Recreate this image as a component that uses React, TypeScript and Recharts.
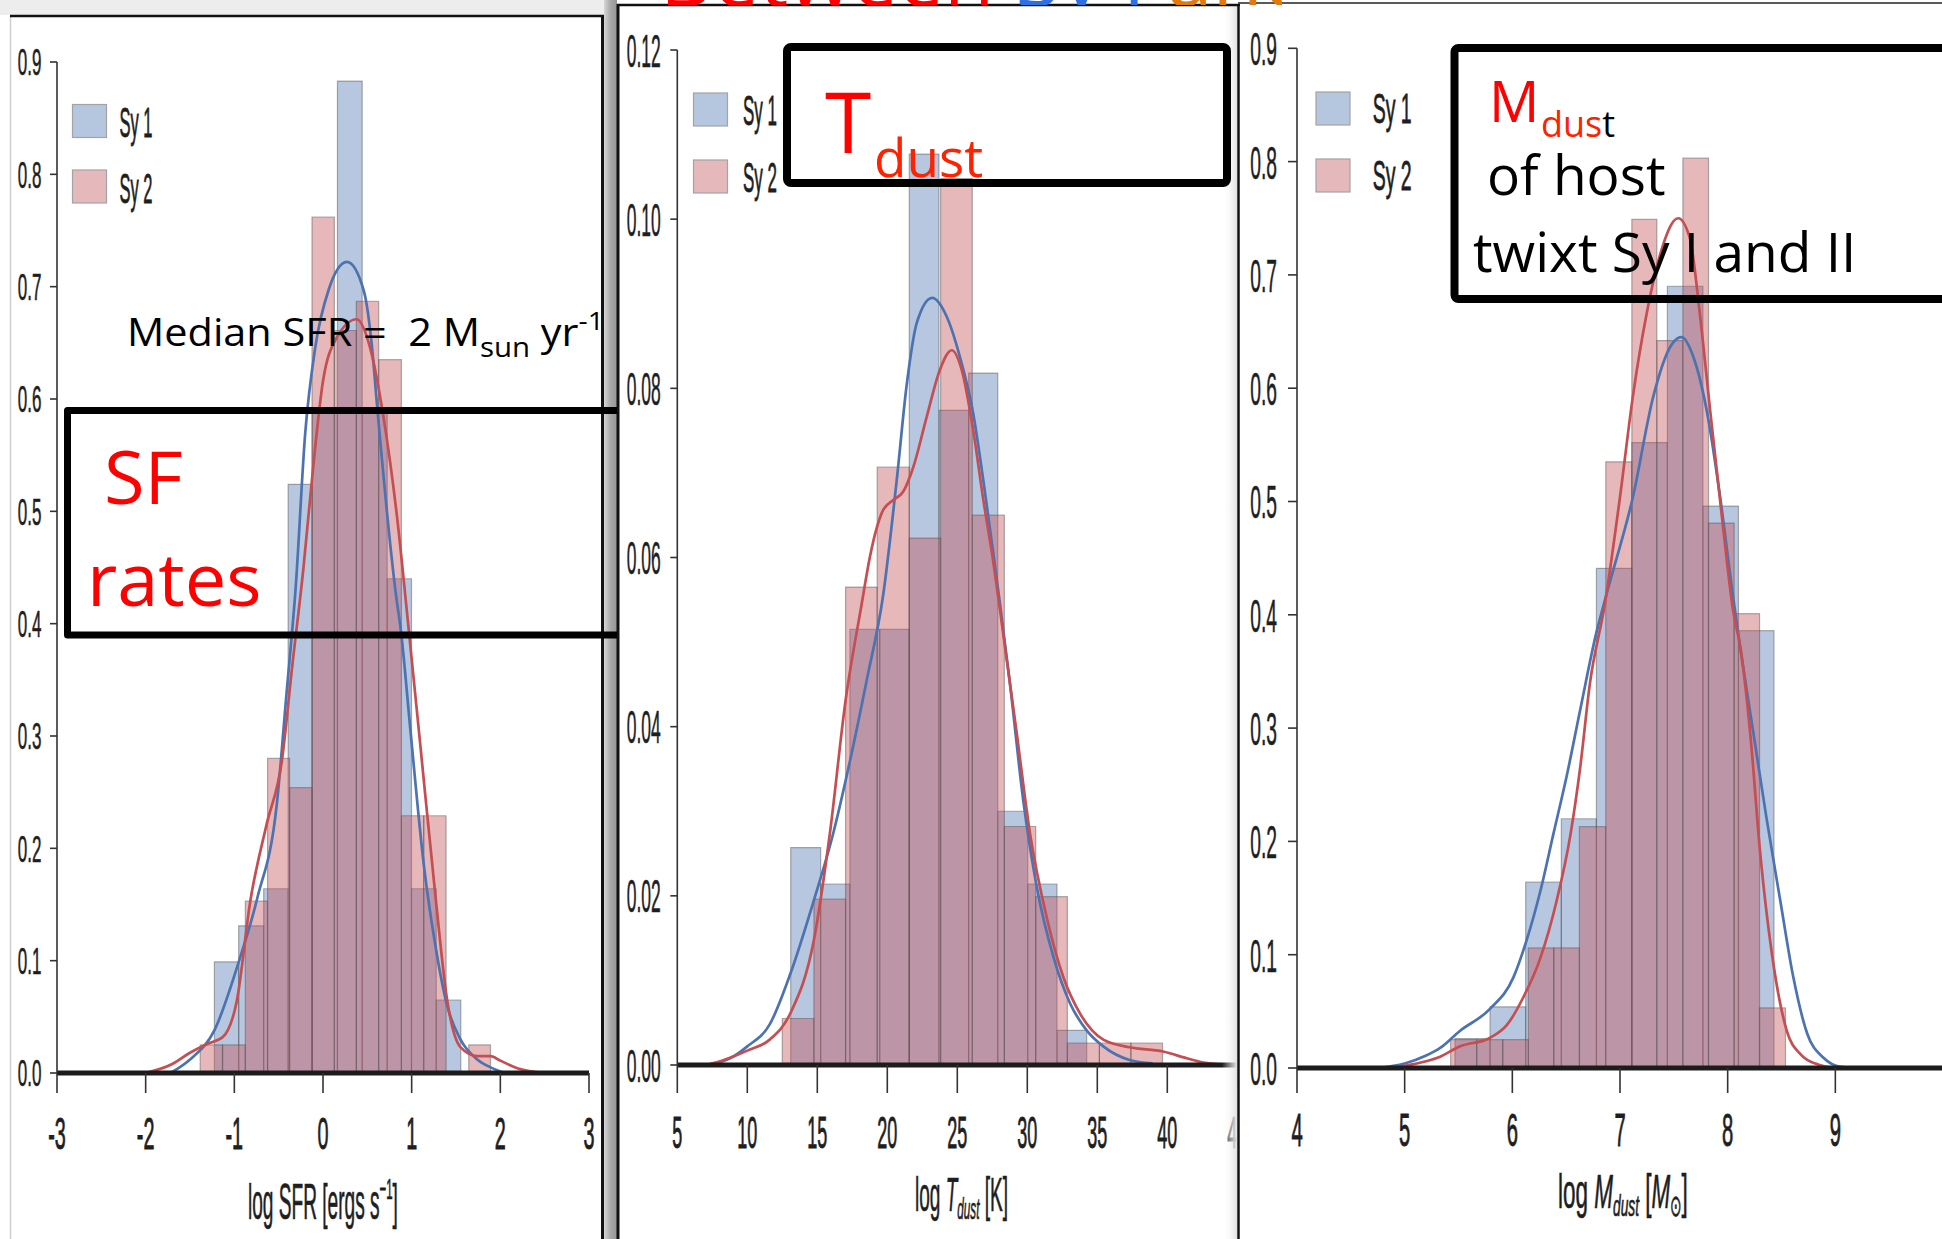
import React, { useLayoutEffect, useRef, useState } from 'react';
import { ComposedChart, Line, XAxis, YAxis, ReferenceArea } from 'recharts';

const SY1 = '#4c72b0';
const SY2 = '#c44e52';
const TICK_FONT = "'Liberation Sans', Arial, sans-serif";
const NOTE_FONT = "'Open Sans', 'Noto Sans', sans-serif";

// ---------- Panel 1 : log SFR ----------
const sfrXTicks = [-3, -2, -1, 0, 1, 2, 3];
const sfrYTicks = [0, 0.1, 0.2, 0.3, 0.4, 0.5, 0.6, 0.7, 0.8, 0.9];
const sfrSy1Edges = [-1.225, -0.951, -0.669, -0.393, -0.122, 0.163, 0.442, 0.724, 0.998, 1.277, 1.554];
const sfrSy1Density = [0.099, 0.131, 0.164, 0.524, 0.59, 0.883, 0.59, 0.44, 0.164, 0.065];
const sfrSy2Edges = [-1.385, -1.133, -0.876, -0.625, -0.377, -0.124, 0.128, 0.376, 0.628, 0.884, 1.136, 1.388, 1.644, 1.889];
const sfrSy2Density = [0.025, 0.025, 0.153, 0.28, 0.254, 0.762, 0.661, 0.687, 0.635, 0.229, 0.229, 0, 0.025];
const sfrSy1Kde: [number, number][] = [
  [-1.72, 0], [-1.5, 0.012], [-1.225, 0.038], [-0.95, 0.099], [-0.74, 0.156], [-0.52, 0.24],
  [-0.41, 0.339], [-0.31, 0.43], [-0.2, 0.57], [-0.087, 0.646], [0.063, 0.697], [0.27, 0.722],
  [0.458, 0.697], [0.553, 0.646], [0.61, 0.594], [0.816, 0.43], [0.884, 0.39], [0.985, 0.306],
  [1.136, 0.186], [1.275, 0.11], [1.4, 0.06], [1.55, 0.03], [1.74, 0.012], [1.89, 0.005], [2.05, 0],
];
const sfrSy2Kde: [number, number][] = [
  [-2.0, 0], [-1.7, 0.008], [-1.5, 0.018], [-1.3, 0.026], [-1.13, 0.032], [-0.97, 0.065], [-0.82, 0.153],
  [-0.64, 0.22], [-0.46, 0.28], [-0.35, 0.36], [-0.22, 0.45], [-0.11, 0.54], [0.0, 0.616], [0.158, 0.655],
  [0.38, 0.671], [0.53, 0.646], [0.68, 0.585], [0.835, 0.495], [0.96, 0.4], [1.1, 0.29], [1.27, 0.156],
  [1.4, 0.065], [1.55, 0.023], [1.74, 0.015], [1.89, 0.015], [2.0, 0.011], [2.2, 0.004], [2.5, 0],
];

// ---------- Panel 2 : T dust ----------
const tdXTicks = [5, 10, 15, 20, 25, 30, 35, 40, 45];
const tdYTicks = [0, 0.02, 0.04, 0.06, 0.08, 0.1, 0.12];
const tdSy1Edges = [13.1, 15.24, 17.33, 19.46, 21.57, 23.69, 25.81, 27.89, 30.03, 32.12, 34.24];
const tdSy1Density = [0.0257, 0.0214, 0.0515, 0.0515, 0.1077, 0.0774, 0.0818, 0.03, 0.0214, 0.0041];
const tdSy2Edges = [12.5, 14.76, 17.02, 19.28, 21.57, 23.81, 26.07, 28.36, 30.6, 32.86, 35.15, 37.4, 39.66];
const tdSy2Density = [0.0055, 0.0196, 0.0565, 0.0707, 0.0623, 0.1048, 0.065, 0.0282, 0.0199, 0.0026, 0.0026, 0.0026];
const tdSy1Kde: [number, number][] = [
  [7, 0], [8, 0.0003], [9, 0.001], [10, 0.0022], [11.6, 0.0048], [13.1, 0.0109], [14.76, 0.0195],
  [16.14, 0.0274], [17.34, 0.036], [18.53, 0.0455], [19.7, 0.0555], [20.67, 0.0691], [21.4, 0.0806],
  [22.1, 0.0877], [23.2, 0.0907], [24.24, 0.0885], [25.19, 0.0837], [26.14, 0.077], [26.86, 0.0691],
  [27.57, 0.0605], [28.05, 0.0545], [28.76, 0.0451], [29.71, 0.0313], [30.67, 0.0211], [31.86, 0.0128],
  [33.05, 0.0073], [34.24, 0.0041], [35.43, 0.0022], [37.3, 0.0006], [38.96, 0.0002],
];
const tdSy2Kde: [number, number][] = [
  [7, 0], [8, 0.0004], [9, 0.001], [10, 0.0017], [11.6, 0.003], [13.1, 0.0062], [14.76, 0.0148],
  [15.9, 0.0274], [17.02, 0.0431], [18.17, 0.0545], [18.76, 0.0601], [19.7, 0.0656], [20.43, 0.0668],
  [21.14, 0.0678], [21.86, 0.0707], [22.81, 0.0766], [23.76, 0.0822], [24.6, 0.0845], [25.31, 0.0822],
  [26.14, 0.075], [26.86, 0.0668], [27.57, 0.0595], [28.05, 0.0538], [29.24, 0.0393], [30.19, 0.0274],
  [31.38, 0.0175], [32.57, 0.0104], [33.76, 0.0061], [35.43, 0.003], [37.3, 0.0021], [39.7, 0.0016],
  [41.38, 0.0008], [42.57, 0.0003], [44.9, 0],
];

// ---------- Panel 3 : M dust ----------
const mdXTicks = [4, 5, 6, 7, 8, 9];
const mdYTicks = [0, 0.1, 0.2, 0.3, 0.4, 0.5, 0.6, 0.7, 0.8, 0.9];
const mdSy1Edges = [5.467, 5.793, 6.124, 6.455, 6.781, 7.11, 7.44, 7.77, 8.1, 8.43];
const mdSy1Density = [0.026, 0.054, 0.164, 0.22, 0.441, 0.552, 0.69, 0.496, 0.386];
const mdSy2Edges = [5.427, 5.669, 5.911, 6.149, 6.385, 6.623, 6.868, 7.11, 7.342, 7.584, 7.822, 8.06, 8.296, 8.537];
const mdSy2Density = [0.025, 0.025, 0.025, 0.106, 0.106, 0.213, 0.535, 0.749, 0.642, 0.803, 0.481, 0.401, 0.053];
const mdSy1Kde: [number, number][] = [
  [4.75, 0], [5.0, 0.004], [5.2, 0.011], [5.33, 0.0177], [5.51, 0.0325], [5.79, 0.052], [6.01, 0.08],
  [6.13, 0.112], [6.26, 0.156], [6.38, 0.206], [6.51, 0.26], [6.63, 0.316], [6.78, 0.384], [6.88, 0.42],
  [7.12, 0.504], [7.31, 0.593], [7.47, 0.637], [7.57, 0.645], [7.68, 0.628], [7.81, 0.578], [7.93, 0.504],
  [8.05, 0.416], [8.12, 0.369], [8.24, 0.295], [8.36, 0.221], [8.49, 0.147], [8.61, 0.08], [8.74, 0.03],
  [8.89, 0.009], [9.05, 0.001], [9.2, 0],
];
const mdSy2Kde: [number, number][] = [
  [4.85, 0], [5.0, 0.002], [5.2, 0.006], [5.33, 0.01], [5.51, 0.019], [5.79, 0.0265], [5.95, 0.038],
  [6.1, 0.062], [6.26, 0.097], [6.41, 0.147], [6.54, 0.206], [6.63, 0.265], [6.72, 0.339], [6.86, 0.41],
  [7.0, 0.504], [7.12, 0.593], [7.25, 0.667], [7.37, 0.717], [7.54, 0.75], [7.65, 0.732], [7.74, 0.667],
  [7.84, 0.578], [7.96, 0.475], [8.05, 0.404], [8.12, 0.37], [8.21, 0.295], [8.3, 0.192], [8.43, 0.0885],
  [8.55, 0.0325], [8.68, 0.0118], [8.84, 0.003], [9.0, 0],
];

type Bin = { x1: number; x2: number; h: number };
const toBins = (edges: number[], dens: number[]): Bin[] =>
  dens.map((h, i) => ({ x1: edges[i], x2: edges[i + 1], h })).filter((b) => b.h > 0);
const toPts = (pairs: [number, number][]) => pairs.map(([x, y]) => ({ x, y }));

function FitText({ x, y, width, children, ...rest }: any) {
  const ref = useRef<SVGTextElement>(null);
  const [s, setS] = useState(1);
  useLayoutEffect(() => {
    if (ref.current) {
      const w = ref.current.getBBox().width;
      if (w > 0) setS(width / w);
    }
  }, [width]);
  return (
    <text ref={ref} transform={`translate(${x},${y}) scale(${s},1)`} style={{ whiteSpace: 'pre' }} {...rest}>
      {children}
    </text>
  );
}

type PanelCfg = {
  width: number;
  margin: { top: number; right: number; bottom: number; left: number };
  xDomain: [number, number];
  xTicks: number[];
  yDomain: [number, number];
  yTicks: number[];
  yDec: number;
  sy1: Bin[];
  sy2: Bin[];
  k1: { x: number; y: number }[];
  k2: { x: number; y: number }[];
  xTickSize: number;
  xLabelDy: number;
  xFont: number;
  xScale: number;
  yTickSize: number;
  yTickMargin: number;
  yFont: number;
  yScale: number;
};

function HistPanel({ cfg }: { cfg: PanelCfg }) {
  const xTick = (props: any) => {
    const { x, y, payload } = props;
    return (
      <text
        transform={`translate(${x},${y + cfg.xLabelDy}) scale(${cfg.xScale},1)`}
        textAnchor="middle"
        fontSize={cfg.xFont}
        fontFamily={TICK_FONT}
        fill="#1e1e1e"
        stroke="#1e1e1e"
        strokeWidth={0.9}
      >
        {String(payload.value)}
      </text>
    );
  };
  const yTick = (props: any) => {
    const { x, y, payload } = props;
    return (
      <text
        transform={`translate(${x},${y}) scale(${cfg.yScale},1)`}
        textAnchor="end"
        dy="0.36em"
        fontSize={cfg.yFont}
        fontFamily={TICK_FONT}
        fill="#1e1e1e"
        stroke="#1e1e1e"
        strokeWidth={0.6}
      >
        {Number(payload.value).toFixed(cfg.yDec)}
      </text>
    );
  };
  // axes take 1px of room; margins are reduced by that pixel
  const m = {
    top: cfg.margin.top,
    right: cfg.margin.right,
    bottom: cfg.margin.bottom - 1,
    left: cfg.margin.left - 1,
  };
  return (
    <ComposedChart width={cfg.width} height={1239} margin={m}>
      {cfg.sy1.map((b, i) => (
        <ReferenceArea
          key={'a' + i}
          x1={b.x1}
          x2={b.x2}
          y1={0}
          y2={b.h}
          fill={SY1}
          fillOpacity={0.4}
          stroke="#505050"
          strokeOpacity={0.45}
          strokeWidth={1.2}
          ifOverflow="visible"
        />
      ))}
      {cfg.sy2.map((b, i) => (
        <ReferenceArea
          key={'b' + i}
          x1={b.x1}
          x2={b.x2}
          y1={0}
          y2={b.h}
          fill={SY2}
          fillOpacity={0.4}
          stroke="#505050"
          strokeOpacity={0.45}
          strokeWidth={1.2}
          ifOverflow="visible"
        />
      ))}
      <Line data={cfg.k1} dataKey="y" type="monotone" stroke={SY1} strokeWidth={2.7} dot={false} isAnimationActive={false} />
      <Line data={cfg.k2} dataKey="y" type="monotone" stroke={SY2} strokeWidth={2.7} dot={false} isAnimationActive={false} />
      <XAxis
        type="number"
        dataKey="x"
        domain={cfg.xDomain}
        ticks={cfg.xTicks}
        interval={0}
        allowDataOverflow
        height={1}
        tickSize={cfg.xTickSize}
        tickMargin={0}
        axisLine={{ stroke: '#1c1c1c', strokeWidth: 5 }}
        tickLine={{ stroke: '#333', strokeWidth: 1.6 }}
        tick={xTick}
      />
      <YAxis
        type="number"
        domain={cfg.yDomain}
        ticks={cfg.yTicks}
        interval={0}
        allowDataOverflow
        width={1}
        tickSize={cfg.yTickSize}
        tickMargin={cfg.yTickMargin}
        axisLine={{ stroke: '#333', strokeWidth: 1.6 }}
        tickLine={{ stroke: '#333', strokeWidth: 1.6 }}
        tick={yTick}
      />
    </ComposedChart>
  );
}

const panel1: PanelCfg = {
  width: 602,
  margin: { top: 62, right: 13, bottom: 166, left: 57 },
  xDomain: [-3, 3],
  xTicks: sfrXTicks,
  yDomain: [0, 0.9],
  yTicks: sfrYTicks,
  yDec: 1,
  sy1: toBins(sfrSy1Edges, sfrSy1Density),
  sy2: toBins(sfrSy2Edges, sfrSy2Density),
  k1: toPts(sfrSy1Kde),
  k2: toPts(sfrSy2Kde),
  xTickSize: 20,
  xLabelDy: 56,
  xFont: 44,
  xScale: 0.45,
  yTickSize: 7,
  yTickMargin: 8.5,
  yFont: 37,
  yScale: 0.46,
};

const panel2: PanelCfg = {
  width: 621,
  margin: { top: 50, right: 2.7, bottom: 174, left: 58.3 },
  xDomain: [5, 45],
  xTicks: tdXTicks,
  yDomain: [0, 0.12],
  yTicks: tdYTicks,
  yDec: 2,
  sy1: toBins(tdSy1Edges, tdSy1Density),
  sy2: toBins(tdSy2Edges, tdSy2Density),
  k1: toPts(tdSy1Kde),
  k2: toPts(tdSy2Kde),
  xTickSize: 28,
  xLabelDy: 55,
  xFont: 45,
  xScale: 0.4,
  yTickSize: 7,
  yTickMargin: 9.6,
  yFont: 46,
  yScale: 0.38,
};

const panel3: PanelCfg = {
  width: 703,
  margin: { top: 48.3, right: 0, bottom: 171, left: 57 },
  xDomain: [4, 10],
  xTicks: mdXTicks,
  yDomain: [0, 0.9],
  yTicks: mdYTicks,
  yDec: 1,
  sy1: toBins(mdSy1Edges, mdSy1Density),
  sy2: toBins(mdSy2Edges, mdSy2Density),
  k1: toPts(mdSy1Kde),
  k2: toPts(mdSy2Kde),
  xTickSize: 25,
  xLabelDy: 53,
  xFont: 46,
  xScale: 0.44,
  yTickSize: 9,
  yTickMargin: 11,
  yFont: 47,
  yScale: 0.41,
};

function LegendBlock({ x, y1, y2, tx, tb1, tb2, tw }: any) {
  return (
    <g>
      <rect x={x} y={y1} width={34} height={33} fill="#b5c6df" stroke="#a3a3a3" strokeWidth={1.2} />
      <rect x={x} y={y2} width={34} height={33} fill="#e5b8bb" stroke="#a3a3a3" strokeWidth={1.2} />
      <FitText x={tx} y={tb1} width={tw} fontSize={43} fontFamily={TICK_FONT} fill="#1e1e1e" stroke="#1e1e1e" strokeWidth={0.8}>Sy 1</FitText>
      <FitText x={tx} y={tb2} width={tw} fontSize={43} fontFamily={TICK_FONT} fill="#1e1e1e" stroke="#1e1e1e" strokeWidth={0.8}>Sy 2</FitText>
    </g>
  );
}

function Overlay() {
  return (
    <svg width={1942} height={1239} style={{ position: 'absolute', left: 0, top: 0, pointerEvents: 'none' }}>
      <defs>
        <linearGradient id="band" x1="0" x2="1" y1="0" y2="0">
          <stop offset="0" stopColor="#d6d6d6" />
          <stop offset="0.5" stopColor="#a8a8a8" />
          <stop offset="1" stopColor="#959595" />
        </linearGradient>
        <linearGradient id="shade" x1="0" x2="1" y1="0" y2="0">
          <stop offset="0" stopColor="#ffffff" stopOpacity="0" />
          <stop offset="1" stopColor="#e2e2e2" stopOpacity="1" />
        </linearGradient>
        <clipPath id="topclip">
          <rect x={600} y={0} width={682} height={5} />
        </clipPath>
      </defs>

      {/* frames */}
      <rect x={0} y={0} width={604} height={15} fill="#ededed" />
      <line x1={10.5} y1={16} x2={10.5} y2={1239} stroke="#cfcfcf" strokeWidth={1.5} />
      <line x1={10} y1={16} x2={604} y2={16} stroke="#111" strokeWidth={2.5} />
      <rect x={604} y={0} width={13} height={1239} fill="url(#band)" />
      <line x1={602.5} y1={15} x2={602.5} y2={1239} stroke="#111" strokeWidth={3} />
      <rect x={1222} y={6} width={15} height={1233} fill="url(#shade)" />
      <line x1={618} y1={4} x2={618} y2={1239} stroke="#111" strokeWidth={3} />
      <line x1={617} y1={5} x2={1240} y2={5} stroke="#111" strokeWidth={2.5} />
      <line x1={1238.5} y1={4} x2={1238.5} y2={1239} stroke="#111" strokeWidth={2.5} />
      <line x1={1238} y1={3} x2={1942} y2={3} stroke="#222" strokeWidth={1.6} />

      {/* cut-off slide title */}
      <g clipPath="url(#topclip)">
        <text x={660} y={6} fontSize={82} fontFamily={NOTE_FONT} style={{ whiteSpace: 'pre' }}>
          <tspan fill="#ff0000">Between </tspan>
          <tspan fill="#2f6fe0">Sy I </tspan>
          <tspan fill="#e07a10">and II</tspan>
        </text>
      </g>

      {/* legends */}
      <LegendBlock x={72.5} y1={104.5} y2={170} tx={119.5} tb1={137} tb2={203} tw={33} />
      <LegendBlock x={693.5} y1={93} y2={160} tx={743} tb1={125} tb2={192} tw={34} />
      <LegendBlock x={1316} y1={92} y2={159} tx={1372.7} tb1={123} tb2={190} tw={39} />

      {/* axis titles */}
      <FitText x={248} y={1219} width={150} fontSize={50} fontFamily={TICK_FONT} fill="#1e1e1e" stroke="#1e1e1e" strokeWidth={0.7}>
        log SFR [ergs s<tspan fontSize={30} dy={-20}>{'\u22121'}</tspan><tspan dy={20}>]</tspan>
      </FitText>
      <FitText x={915} y={1211} width={93} fontSize={49} fontFamily={TICK_FONT} fill="#1e1e1e" stroke="#1e1e1e" strokeWidth={0.7}>
        log <tspan fontStyle="italic">T</tspan><tspan fontStyle="italic" fontSize={30} dy={8}>dust</tspan><tspan dy={-8}> [K]</tspan>
      </FitText>
      <FitText x={1558} y={1208} width={130} fontSize={49} fontFamily={TICK_FONT} fill="#1e1e1e" stroke="#1e1e1e" strokeWidth={0.7}>
        log <tspan fontStyle="italic">M</tspan><tspan fontStyle="italic" fontSize={30} dy={8}>dust</tspan><tspan dy={-8}> [</tspan><tspan fontStyle="italic">M</tspan><tspan fontSize={30} dy={8}>{'\u2299'}</tspan><tspan dy={-8}>]</tspan>
      </FitText>

      {/* annotation box 1 : SF rates */}
      <path d="M 617 410.5 H 67.5 V 635 H 617" fill="none" stroke="#000" strokeWidth={7} strokeLinejoin="round" />
      <text x={104} y={504} fontSize={74} fontFamily={NOTE_FONT} fill="#ff0000">SF</text>
      <text x={87} y={606} fontSize={74} fontFamily={NOTE_FONT} fill="#ff0000">rates</text>
      <FitText x={127} y={346} width={477} fontSize={38} fontFamily={NOTE_FONT} fill="#000">
        Median SFR =  2 M<tspan fontSize={27} dy={11}>sun</tspan><tspan dy={-11}> yr</tspan><tspan fontSize={26} dy={-16}>-1</tspan>
      </FitText>

      {/* annotation box 2 : T dust */}
      <rect x={787} y={47} width={440} height={136} rx={4} fill="none" stroke="#000" strokeWidth={8} />
      <text x={825} y={153} fontSize={84} fontFamily={NOTE_FONT} fill="#ff0000">T</text>
      <text x={874} y={177} fontSize={53} fontFamily={NOTE_FONT} fill="#ff2200">dust</text>

      {/* annotation box 3 : M dust */}
      <rect x={1454.5} y={48} width={560} height={251} rx={4} fill="none" stroke="#000" strokeWidth={8} />
      <text x={1489} y={121.7} fontSize={56} fontFamily={NOTE_FONT} fill="#ff0000">M</text>
      <text x={1541} y={137} fontSize={36} fontFamily={NOTE_FONT}>
        <tspan fill="#ff2200">dus</tspan><tspan fill="#000">t</tspan>
      </text>
      <text x={1487} y={195} fontSize={55} fontFamily={NOTE_FONT} fill="#000">of host</text>
      <text x={1473} y={272} fontSize={55} fontFamily={NOTE_FONT} fill="#000">twixt Sy I and II</text>
    </svg>
  );
}

export default function App() {
  return (
    <div
      style={{
        position: 'absolute',
        left: 0,
        top: 0,
        width: 1942,
        height: 1239,
        overflow: 'hidden',
        background: '#ffffff',
      }}
    >
      <div style={{ position: 'absolute', left: 0, top: 0, width: 602, height: 1239 }}>
        <HistPanel cfg={panel1} />
      </div>
      <div style={{ position: 'absolute', left: 619, top: 0, width: 618, height: 1239, overflow: 'hidden', background: '#fff' }}>
        <HistPanel cfg={panel2} />
      </div>
      <div style={{ position: 'absolute', left: 1240, top: 0, width: 702, height: 1239, overflow: 'hidden', background: '#fff' }}>
        <HistPanel cfg={panel3} />
      </div>
      <Overlay />
    </div>
  );
}
